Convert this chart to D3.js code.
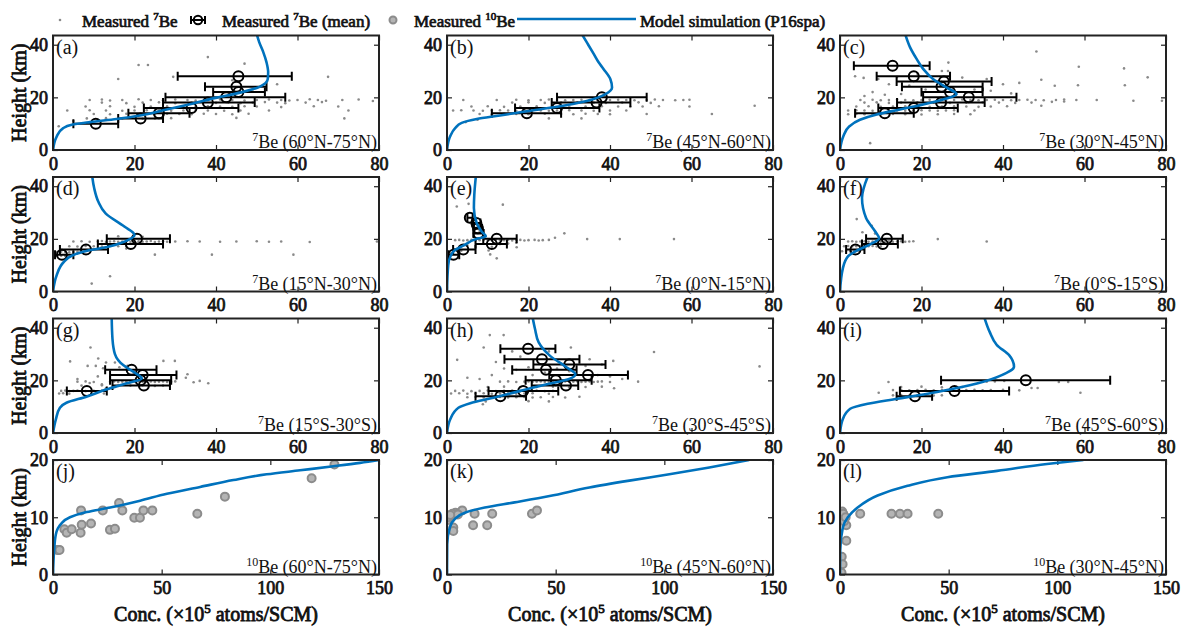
<!DOCTYPE html>
<html><head><meta charset="utf-8">
<script src="https://cdn.jsdelivr.net/npm/d3@7"></script>
<style>
body{margin:0;background:#fff;}
svg text{font-family:"Liberation Serif","Times New Roman",serif;}
</style></head><body>
<svg id="chart" width="1181" height="628"></svg>
<script>
// ---- model curves [conc, height] ----
var model_a = [[0,0],[0.9,5.1],[2.5,8.3],[4.6,9.6],[9.1,10.6],[15.6,11.8],[21.4,13.1],[27.9,15.4],[34.4,17.7],[40.2,19.9],[45.9,21.8],[50.8,24.1],[52.7,26.9],[52.8,29.5],[52.4,33.3],[51.6,37.2],[50.6,41],[50,44]];
var model_b = [[0,0],[0.75,5.1],[2,8.3],[3.6,10.3],[7.3,11.8],[13,13.1],[19.6,14.7],[27,16.4],[34.3,18.6],[38.9,21.2],[40.5,23.7],[40.1,26.9],[38.4,30.8],[37.2,33.3],[36,36.5],[34.5,40.4],[33.1,44]];
var model_c = [[0,0],[0.8,5.1],[2.3,9],[4.9,11.5],[9,13.5],[14.7,15.4],[20.4,17.3],[25.3,19.2],[28.6,21.2],[26.2,23.7],[22.9,26.9],[20.4,30.8],[18.8,34.6],[17.2,39],[16,44]];
var model_d = [[0,0],[0.9,6.2],[2.7,11.3],[4.6,13.6],[7.4,15.1],[13.8,17.1],[18.5,19.6],[20,21.5],[17.5,24.7],[12.9,29.7],[11.1,34.2],[10.1,39.3],[9.6,44]];
var model_e = [[0,0],[0.3,10],[0.8,13.2],[2,15.8],[4,17.4],[7.7,20.2],[9.5,20.9],[8.5,22.8],[7.3,25.9],[6.6,31.7],[6.7,36.8],[7.1,44]];
var model_f = [[0,0],[0.7,8.8],[2,13.4],[4.2,15.6],[7.4,17.9],[9.6,20.2],[8.6,22.9],[6.4,27.9],[5.4,35.5],[6.9,44]];
var model_g = [[0,0],[0.7,5.2],[1.7,9.6],[3.3,11.5],[8.2,13.8],[13.2,16.6],[18.1,18.9],[21.8,20.7],[20.1,22.9],[17.3,25.7],[15.2,30],[14.6,35.7],[14.4,44]];
var model_h = [[0,0],[0.8,5.2],[2.8,9.6],[5.7,11.3],[11.4,13.4],[18,16],[24.5,18.5],[29.8,20.4],[31.5,22.3],[29.4,24.9],[25.3,29.3],[22.5,34.4],[21.6,39.5],[21,44]];
var model_i = [[0,0],[0.7,5.3],[2.5,9.2],[6.8,11.1],[14.1,13],[23.8,15.6],[33.6,18.8],[39.7,22],[42.7,25.2],[41.5,29.6],[38.5,33.4],[36.7,38.5],[35.4,44]];
var model_j = [[0,0],[0.5,4.1],[1.3,7],[3.6,8.8],[7.8,10],[15.5,10.9],[26.3,11.7],[40.1,12.9],[52.4,14.1],[67.7,15.3],[83,16.5],[98.3,17.5],[113.7,18.2],[129,18.9],[141.3,19.5],[150,20]];
var model_k = [[0,0],[0.1,5.3],[1.3,8.2],[3.6,9.7],[8.2,10.8],[17.4,11.7],[31.1,12.6],[47.2,13.7],[65.5,15.2],[83.9,16.4],[102.3,17.5],[120.7,18.7],[139,20]];
var model_l = [[0,0],[0.1,4.1],[1.3,8.2],[3.6,10],[8.1,11.7],[17.3,13.8],[31.1,15.5],[49.4,17],[72.3,18.1],[95.2,19.3],[112,20]];

// ---- measured 7Be means [mean, height, low, high] ----
var mean_a = [[10.5,10,5,16],[21.5,12,16,27],[26,14,18.5,33.5],[34,16,22.3,45.5],[38,18,27,49.5],[42.5,20,27.6,57],[45.5,22,39.3,52],[45,24,37.3,52.4],[45.5,28,30.6,58.6]];
var mean_b = [[19.6,14,11,28],[27,16,16.7,37.4],[36.7,18,25.7,45],[38,20,27,49]];
var mean_c = [[11,14,3.7,18.1],[18.1,16,9.4,28.9],[24.8,18,14,35.5],[31.6,20,20.4,43.3],[27,22,20,35],[24.9,24,15.2,35],[25.5,26,13.9,37.2],[18.1,28,9,27],[12.9,32,3.4,22]];
var mean_d = [[2.2,14,0.5,5],[8.1,16,1.7,13.5],[19.1,18,11,27],[20.6,20,13.2,28.7]];
var mean_e = [[1.6,14,0.3,3],[4,16,1.5,7],[11,18,7,14.7],[12.2,20,8.9,17.1],[7.7,22,6.5,9],[7.6,24,6.6,8.6],[7.2,26,6.2,8.2],[5.6,28,5,6.3]];
var mean_f = [[3.8,16,1.5,6],[10.5,18,5.4,14.2],[11.5,20,6.4,15.4]];
var mean_g = [[8.3,16,3.4,13.2],[22.3,18,14.6,28.7],[21.5,20,14,29],[22,22,14,30.3],[19.3,24,12.8,25.4]];
var mean_h = [[13.1,14,7,19.4],[18.7,16,10.2,27.3],[29.2,18,20.8,32.2],[26.7,20,19.3,35.5],[34.6,22,25.1,44.4],[24.3,24,16,31.8],[30,26,21.2,38.9],[23.3,28,14.1,32.5],[19.9,32,13.1,26.6]];
var mean_i = [[18.4,14,13.9,22.6],[28.1,16,14.7,41.5],[45.6,20,24.8,66.3]];

// ---- measured 7Be samples [conc, height] ----
var dots_a = [[21,32.3],[23.3,32.3],[38,35.3],[29.5,27.8],[16,27],[47,32.8],[67.5,27.8],[44,26.5],[55,25],[49,23],
  [9,19],[12,19.2],[14,18.8],[17,19],[21,19.3],[24,19],[27,18.9],[30,19.2],[33,19],[35,18.8],[38,19],[41,19.2],[44,19],[47,18.8],[50,19],[53,19.2],[56,19],[58,18.8],[60,19],[63,19.3],[65,19],[67,18.7],[71,19],[75,19.2],[78.5,18.6],
  [12,18],[18,17.8],[22,18],[26,18.1],[30,17.8],[34,18],[37,18.2],[40,17.9],[43,18],[46,17.8],[49,18],[52,18.2],[55,18],[57,17.8],[62,18],[66,18.2],
  [8,16.5],[14,16.6],[20,16.4],[24,16.5],[28,16.6],[32,16.4],[35,16.5],[38,16.6],[41,16.5],[44,16.4],[47,16.6],[50,16.5],[56,16.3],[64,16.6],[70,16.5],
  [3.5,15],[9,15.1],[13,15],[17,14.9],[20,15],[23,15.1],[26,15],[29,14.9],[32,15],[35,15.1],[38,15],[42,14.9],[46,15],[53,15],[72.5,15],
  [10,13.7],[14,13.6],[18,13.8],[22,13.7],[25,13.6],[28,13.8],[31,13.7],[34,13.6],[37,13.8],[40,13.7],[44,13.6],[48,13.8],
  [8.3,12],[13,12.1],[17,12],[22,11.9],[25,12],[29,12.1],[45,12.2],[71.5,12],[5,11],[1.4,9]];
var dots_b = [[4,19],[12.2,19],[17,19.1],[20,18.9],[23,19],[25,19.2],[27,19],[29,18.9],[31,19],[33,19.1],[35,19],[37,18.8],[40,19],[42,19.1],[44,19],[46,18.9],[49,19],[51,19.2],[53,19],[56,18.9],[58,19],[59.5,19.1],
  [16,18],[20,18.1],[24,17.9],[28,18],[32,18.1],[36,18],[39,17.9],[43,18],[47,18.1],[50,17.9],
  [6,16.5],[10,16.6],[14,16.4],[18,16.5],[22,16.6],[26,16.5],[30,16.4],[34,16.5],[38,16.6],[42,16.5],[45,16.4],[48,16.5],[52,16.6],[59.5,16.5],[75.5,16.8],
  [1.5,15],[3.5,15.1],[6.5,15],[8.8,14.9],[11,15],[13,15.1],[15,15],[17,14.9],[19,15],[21,15.1],[23,15],[25,14.9],[27,15],[30,15.1],[33,15],[36,14.9],[40,15],[44,15],
  [8,13.7],[11,13.6],[14,13.8],[17,13.7],[20,13.6],[24,13.8],[28,13.7],[31,13.6],[34,13.8],[37,13.7],[40,13.6],[49,13.7],[65,13.7],
  [25,12],[33,12],[4.6,10.6],[7.5,11.5]];
var dots_c = [[48.2,37.4],[58.6,31.6],[69.7,31],[75.5,27.6],[69.9,24.6],[58.4,24.6],[52.7,24.4],[49.4,26.7],[26.6,33.2],[25,30],[26.5,30],[3.7,28],[5.8,27.4],[9.4,27],[7.4,2.6],[36,27],[40,25],[44,25.5],[30,27.5],[14,27.7],[19,29],[12,25],[17,24.5],[8,22],[21,23],[33,23],[37,22.5],[42,21.5],[6,20.5],[11,21],[15,21.3],
  [5,19],[8,19.1],[10,18.9],[12,19],[14,19.2],[16,19],[18,18.9],[20,19],[22,19.1],[24,19],[26,18.8],[28,19],[30,19.2],[32,19],[34,18.9],[36,19],[38,19.1],[40,19],[42,18.9],[44,19],[46,19.1],[48,19],[50,18.9],[53,19],[55,19.2],[58,19],[63,19],[72,18.7],[79,18.7],
  [6,18],[9,18.1],[12,17.9],[15,18],[19,18.1],[23,18],[27,17.9],[31,18],[35,18.1],[39,18],[43,17.9],[47,18],[52,18.3],[55,18.4],
  [4,16.5],[7,16.6],[10,16.4],[13,16.5],[16,16.6],[19,16.5],[22,16.4],[25,16.5],[28,16.6],[31,16.5],[34,16.4],[37,16.5],[41,16.6],[49.4,16.8],
  [2,15],[4,15.1],[6,15],[8,14.9],[10,15],[12,15.1],[14,15],[16,14.9],[18,15],[20,15.1],[22,15],[24,14.9],[26,15],[28,15.1],[33,15],
  [2,13.6],[4,13.7],[6,13.6],[8,13.5],[10,13.6],[13,13.7],[16,13.6],[20,13.5],[24,13.6],[28,13.7],[32,13.6]];
var dots_d = [[5,19],[7,19.1],[9,18.9],[11,19],[12,19.2],[13,18.8],[14,19],[15,19.1],[16,18.9],[17,19],[18,19.2],[19,18.8],[20,19],[21,19.1],[22,18.9],[23,19],[24,19.2],[25,18.8],[26,19],[27,19.1],[28,18.9],[30,19],[33,19.1],[36,19],[41,18.9],[45,19],[50,19.1],[53,18.9],[56,19],[63,18.8],[79.5,19],
  [4,17.2],[6,17.1],[8,17.3],[10,17.2],[12,17.1],[14,17.3],[16,17.2],[18,17.1],
  [1,15],[2,15.1],[3,15],[4,14.9],[5,15],[6,15.1],[7,15],
  [1,13.5],[2,13.6],[3,13.5],[25,14],[39,14],[59,14],[14,5.8],[9.5,3],[18,16.3],[16,21],[22,20.8]];
var dots_e = [[2,19.5],[3,19.6],[4,19.4],[5,19.5],[6,19.6],[7,19.4],[8,19.5],[9,19.6],[10,19.4],[11,19.5],[12,19.6],[13,19.4],[14,19.5],[15,19.6],[16,19.4],[17,19.5],[18,19.6],[19,19.4],[20,19.5],[21.5,19.6],[22.5,19.4],[23.5,19.5],[25,19.6],[26.5,20.4],[34.4,19.9],[42.4,19.9],[55.7,19.9],
  [13.7,33],[5.3,33.3],[2.4,32.3],[28.8,22.1],[12.2,12.6],[10.6,14.1],[10.2,15.6],[17.1,16.8],[8,23],[8.5,24.5],[7.5,25],[9,22],[6.5,21],[7,26],[3,17],[5,17.5],[2,16],[3.5,15.5],[11,17],[13,18],[15,18.2],[17,18.5],[1,14.5]];
var dots_f = [[2,19],[3,19.1],[4,18.9],[5,19],[6,19.1],[7,18.9],[8,19],[9,19.1],[10,18.9],[11,19],[12,19.1],[13,18.9],[14,19],[15,19.1],[16,18.9],[17,19],[18,19.1],
  [1,17.2],[2,17.3],[3,17.1],[4,17.2],[5,17.3],[6,17.1],[7,17.2],[8,17.3],[9,17.1],[10,17.2],
  [0.5,15.3],[1.5,15.4],[2.5,15.2],[3.5,15.3],[4.5,15.4],
  [24,19.9],[36,19],[4.1,27.5],[7.8,25],[5.5,22.5],[8.6,22]];
var dots_g = [[9.2,32.5],[4.2,27.2],[11.1,28.3],[13,26.8],[15.2,26.8],[27.1,27.4],[29.9,27.4],[8.5,25.5],[10.5,25.5],[12.3,24.6],[16.3,25],[18.3,25.5],[32.6,21],[33,22.3],[36,19.8],[38.1,18.9],[34.5,19.3],
  [6,19.5],[8,19.6],[10,19.4],[14,19.5],[15,19.6],[16,19.4],[17,19.5],[18,19.6],[19,19.4],[20,19.5],[21,19.6],[22,19.4],[23,19.5],[24,19.6],[25,19.4],[26,19.5],[27,19.6],[28,19.4],[29,19.5],[30,19.6],
  [7,18],[12,18.1],[16,17.9],[19,18],[22,18.1],[25,17.9],[27,18],
  [2,16],[3,16.1],[4,15.9],[5,16],[6,16.1],[8,15.9],[10,16],[12,16.1],
  [1.5,15],[2.5,15.1],[4,14.9],[12.5,15],[9,19],[12,18.5],[6,20.5],[11,21.5],[13,17]];
var dots_h = [[10.5,37.2],[13.9,37.2],[9,32.5],[30.4,32.5],[2.5,27.8],[40.8,27.4],[50.8,30.8],[76.7,25.3],[46.9,19.5],[41,17],[32.5,13.8],[8.8,10.9],[16,31],[25,31],[12,27],[18,29],[35,28],[38,26],[14,24.5],[17,24],[20,25],[27,24.5],[34,25.5],[11,22],[16,22.5],[21,22],[24,23],[30,23.5],[37,22],[40,21.5],[43,20.5],[5,21],[8,20.5],
  [13,19.5],[15,19.6],[17,19.4],[19,19.5],[20,19.6],[21,19.4],[22,19.5],[23,19.6],[24,19.4],[25,19.5],[26,19.6],[27,19.4],[28,19.5],[29,19.6],[30,19.4],[31,19.5],[32,19.6],[33,19.4],[34,19.5],[35,19.6],[36,19.4],[37,19.5],[38,19.6],[40,19.4],
  [10,17.5],[14,17.6],[18,17.4],[22,17.5],[26,17.6],[30,17.4],[34,17.5],[38,17.6],
  [2,16],[4,16.1],[6,15.9],[8,16],[10,16.1],[12,15.9],[14,16],[16,16.1],[18,15.9],[20,16],[22,16.1],[24,15.9],[26,16],
  [1,15],[3,15.1],[5,14.9],[7,15],[9,15.1],[11,14.9],[13,15],[15,15.1],[17,14.9],[19,15],[21,15.1],[25,14.9],
  [5,13.6],[7,13.7],[9,13.5],[11,13.6],[13,13.7],[15,13.5],[17,13.6],[19,13.7],[21,13.5],[23,13.6],[26,13.7],[29,13.5],
  [9.5,12],[20,12.1],[25,12]];
var dots_i = [[11.9,19.4],[9.5,15.3],[40.3,19.8],[47,17.1],[48.5,17.1],[53.7,19.4],[56,19.4],[59,15.3],[36,19.5],[38,19.6],
  [13,16.3],[15,16.4],[17,16.2],[19,16.3],[21,16.4],[23,16.2],[25,16.3],[27,16.4],[29,16.2],[31,16.3],[33,16.4],[35,16.2],[37,16.3],[40,16.4],[44,16.2],
  [13,14.3],[15,14.4],[17,14.2],[19,14.3],[21,14.4],[23,14.2],[25,14.3],
  [15,17.5],[20,17.6],[25,17.4],[30,17.5]];

// ---- measured 10Be [conc, height] ----
var be10_j = [[2,4.3],[2.5,4.3],[3,4.3],[5.2,7.9],[6.3,7.3],[8.6,7.9],[12.9,11.2],[12.7,7.3],[13.2,8.7],[17.5,8.9],[22.9,11.2],[26.2,7.8],[28.5,8],[30.4,12.5],[31.9,11.2],[37.4,9.9],[40,9.9],[41.6,11.2],[45.7,11.2],[66.4,10.6],[79.1,13.6],[119,16.8],[129.5,19.2]];
var be10_k = [[7,11.2],[0.2,9.5],[1.1,10.2],[3.9,10.8],[2.5,10.6],[5,10.5],[2.9,8.2],[2.9,7.6],[12.7,10.6],[20.8,10.6],[12,8.6],[18.5,8.6],[39.1,10.6],[41.4,11.2],[0.5,10],[1.5,10.4]];
var be10_l = [[0.5,10.8],[1,11],[0.8,10.4],[1.5,10.6],[9.3,10.6],[23.7,10.6],[27.6,10.6],[31.1,10.6],[45.2,10.6],[2.9,8.6],[2.9,5.9],[0.8,3.1],[1.2,1.8],[0.7,0.3],[1.9,9.3],[2.6,10]];

var ticks7 = [0,20,40,60,80], ticksH7 = [0,20,40];
var ticks10 = [0,50,100,150], ticksH10 = [0,10,20];

var panels = [
  {id:"a", row:0, col:0, iso:"7", lat:"60°N-75°N", model:model_a, mean:mean_a, dots:dots_a},
  {id:"b", row:0, col:1, iso:"7", lat:"45°N-60°N", model:model_b, mean:mean_b, dots:dots_b},
  {id:"c", row:0, col:2, iso:"7", lat:"30°N-45°N", model:model_c, mean:mean_c, dots:dots_c},
  {id:"d", row:1, col:0, iso:"7", lat:"15°N-30°N", model:model_d, mean:mean_d, dots:dots_d},
  {id:"e", row:1, col:1, iso:"7", lat:"0°N-15°N", model:model_e, mean:mean_e, dots:dots_e},
  {id:"f", row:1, col:2, iso:"7", lat:"0°S-15°S", model:model_f, mean:mean_f, dots:dots_f},
  {id:"g", row:2, col:0, iso:"7", lat:"15°S-30°S", model:model_g, mean:mean_g, dots:dots_g},
  {id:"h", row:2, col:1, iso:"7", lat:"30°S-45°S", model:model_h, mean:mean_h, dots:dots_h},
  {id:"i", row:2, col:2, iso:"7", lat:"45°S-60°S", model:model_i, mean:mean_i, dots:dots_i},
  {id:"j", row:3, col:0, iso:"10", lat:"60°N-75°N", model:model_j, be10:be10_j},
  {id:"k", row:3, col:1, iso:"10", lat:"45°N-60°N", model:model_k, be10:be10_k},
  {id:"l", row:3, col:2, iso:"10", lat:"30°N-45°N", model:model_l, be10:be10_l}
];

var svg = d3.select("#chart");
var colX = [53, 447, 840], rowY = [35.5, 177, 318.5, 460];
var W = 326, H = 114.5;
var blue = "#0072BD", frame = "#222", ink = "#111";

// serif bold drawn as regular glyphs with a thin outline
function heavy(sel, sw) {
    sel.attr("fill", ink).attr("stroke", ink).attr("stroke-width", sw || 0.7)
        .style("font-weight", "normal")
        .style("font-family", "'Liberation Serif', serif");
}

panels.forEach(function(p) {
    var is10 = p.row == 3;
    var g = svg.append("g").attr("transform", "translate(" + colX[p.col] + "," + rowY[p.row] + ")");
    var x = d3.scaleLinear().domain(is10 ? [0,150] : [0,80]).range([0, W]);
    var y = d3.scaleLinear().domain(is10 ? [0,20] : [0,43.5]).range([H, 0]);

    g.append("clipPath").attr("id", "clip" + p.id)
        .append("rect").attr("width", W).attr("height", H);

    // axes, ticks pointing inward on all four sides
    var xt = is10 ? ticks10 : ticks7, yt = is10 ? ticksH10 : ticksH7;
    var ax = [
        [d3.axisBottom(x).tickValues(xt), "translate(0," + H + ")", true, 7],
        [d3.axisLeft(y).tickValues(yt), null, true, 5],
        [d3.axisTop(x).tickValues(xt), null, false, 5],
        [d3.axisRight(y).tickValues(yt), "translate(" + W + ",0)", false, 5]
    ];
    ax.forEach(function(a) {
        a[0].tickSizeInner(-5).tickSizeOuter(0).tickPadding(a[3]);
        if (!a[2]) a[0].tickFormat("");
        var ag = g.append("g").call(a[0]);
        if (a[1]) ag.attr("transform", a[1]);
        ag.select(".domain").remove();
        ag.selectAll("line").attr("stroke", frame).attr("stroke-width", 1.2);
        ag.selectAll("text").style("font-size", "18px").call(heavy, 0.75);
    });

    var plot = g.append("g").attr("clip-path", "url(#clip" + p.id + ")");

    if (p.dots) {
        plot.selectAll(".dot").data(p.dots).enter().append("circle")
            .attr("cx", function(d){ return x(d[0]); })
            .attr("cy", function(d){ return y(d[1]); })
            .attr("r", 1.3)
            .attr("fill", "#8a8a8a");
    }
    if (p.be10) {
        plot.selectAll(".b10").data(p.be10).enter().append("circle")
            .attr("cx", function(d){ return x(d[0]); })
            .attr("cy", function(d){ return y(d[1]); })
            .attr("r", 4)
            .attr("fill", "#b4b4b4")
            .attr("stroke", "#8c8c8c")
            .attr("stroke-width", 2);
    }
    if (p.mean) {
        var eb = plot.selectAll(".eb").data(p.mean).enter().append("g");
        eb.append("line")
            .attr("x1", function(d){ return x(d[2]); }).attr("x2", function(d){ return x(d[3]); })
            .attr("y1", function(d){ return y(d[1]); }).attr("y2", function(d){ return y(d[1]); });
        eb.append("line")
            .attr("x1", function(d){ return x(d[2]); }).attr("x2", function(d){ return x(d[2]); })
            .attr("y1", function(d){ return y(d[1]) - 4.5; }).attr("y2", function(d){ return y(d[1]) + 4.5; });
        eb.append("line")
            .attr("x1", function(d){ return x(d[3]); }).attr("x2", function(d){ return x(d[3]); })
            .attr("y1", function(d){ return y(d[1]) - 4.5; }).attr("y2", function(d){ return y(d[1]) + 4.5; });
        eb.selectAll("line").attr("stroke", "#000").attr("stroke-width", 2);
        eb.append("circle")
            .attr("cx", function(d){ return x(d[0]); })
            .attr("cy", function(d){ return y(d[1]); })
            .attr("r", 5).attr("fill", "none")
            .attr("stroke", "#000").attr("stroke-width", 2);
    }

    var line = d3.line()
        .x(function(d){ return x(d[0]); })
        .y(function(d){ return y(d[1]); })
        .curve(d3.curveMonotoneY);
    plot.append("path").datum(p.model)
        .attr("d", line)
        .attr("fill", "none")
        .attr("stroke", blue)
        .attr("stroke-width", 2.6);

    g.append("rect").attr("width", W).attr("height", H)
        .attr("fill", "none").attr("stroke", frame).attr("stroke-width", 2);

    g.append("text").attr("x", 3).attr("y", 18)
        .style("font-size", "20px").attr("fill", ink)
        .text("(" + p.id + ")");

    var lab = g.append("text").attr("x", W - 2).attr("y", H - 2)
        .attr("text-anchor", "end").style("font-size", "18px").attr("fill", ink);
    lab.append("tspan").attr("dy", -7).style("font-size", "12px").text(p.iso);
    lab.append("tspan").attr("dy", 7).text("Be (" + p.lat + ")");
});

// axis titles
[0,1,2,3].forEach(function(r) {
    svg.append("text")
        .attr("transform", "translate(26," + (rowY[r] + H / 2) + ") rotate(-90)")
        .attr("text-anchor", "middle")
        .style("font-size", "20px")
        .text("Height (km)")
        .call(heavy, 0.8);
});
colX.forEach(function(cx) {
    var t = svg.append("text").attr("x", cx + W / 2).attr("y", 621)
        .attr("text-anchor", "middle")
        .style("font-size", "20px").call(heavy, 0.8);
    t.append("tspan").text("Conc. (×10");
    t.append("tspan").attr("dy", -8).style("font-size", "13px").text("5");
    t.append("tspan").attr("dy", 8).text(" atoms/SCM)");
});

// legend
var leg = svg.append("g");
function legText(x0, parts) {
    var t = leg.append("text").attr("x", x0).attr("y", 27)
        .style("font-size", "17px").call(heavy, 0.7);
    parts.forEach(function(s) {
        if (s.sup) t.append("tspan").attr("dy", -7).style("font-size", "11px").text(s.sup);
        else t.append("tspan").attr("dy", s.after ? 7 : 0).text(s.txt);
    });
}
leg.append("circle").attr("cx", 60).attr("cy", 20).attr("r", 1.3).attr("fill", "#8a8a8a");
legText(82, [{txt:"Measured "}, {sup:"7"}, {txt:"Be", after:true}]);
leg.append("line").attr("x1", 191).attr("x2", 205).attr("y1", 20).attr("y2", 20).attr("stroke", "#000").attr("stroke-width", 2);
leg.append("line").attr("x1", 191).attr("x2", 191).attr("y1", 16).attr("y2", 24).attr("stroke", "#000").attr("stroke-width", 2);
leg.append("line").attr("x1", 205).attr("x2", 205).attr("y1", 16).attr("y2", 24).attr("stroke", "#000").attr("stroke-width", 2);
leg.append("circle").attr("cx", 198).attr("cy", 20).attr("r", 4.2).attr("fill", "none").attr("stroke", "#000").attr("stroke-width", 2);
legText(222, [{txt:"Measured "}, {sup:"7"}, {txt:"Be (mean)", after:true}]);
leg.append("circle").attr("cx", 393).attr("cy", 20).attr("r", 3.5).attr("fill", "#b4b4b4").attr("stroke", "#8c8c8c").attr("stroke-width", 2);
legText(414, [{txt:"Measured "}, {sup:"10"}, {txt:"Be", after:true}]);
leg.append("line").attr("x1", 517).attr("x2", 636).attr("y1", 19).attr("y2", 19).attr("stroke", blue).attr("stroke-width", 2.6);
legText(640, [{txt:"Model simulation (P16spa)"}]);
</script>
</body></html>
